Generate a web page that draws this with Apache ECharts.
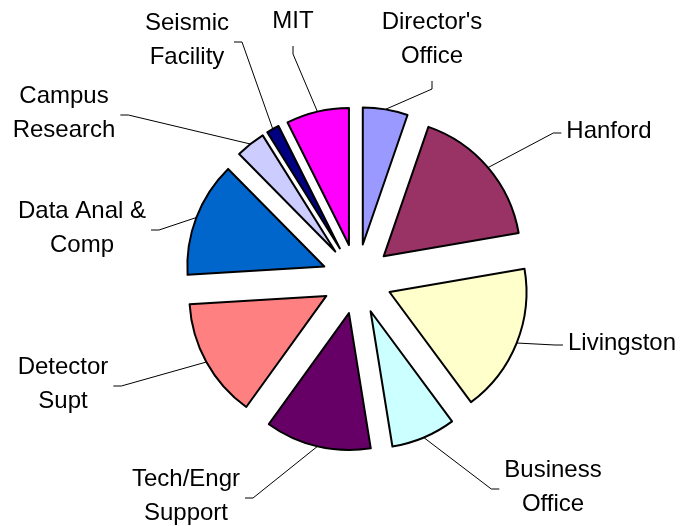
<!DOCTYPE html>
<html lang="en">
<head>
  <meta charset="UTF-8">
  <title>echarts</title>
  <style>
    * {
      margin: 0;
      padding: 0;
    }
    #main {
      width: 681px;
      height: 526px;
      background: #fff;
    }
  </style>
</head>
<body>
  <div id="main"></div>
  <script src="https://cdn.jsdelivr.net/npm/echarts@6/dist/echarts.min.js"></script>
  <script>
    // data, clockwise from 12 o'clock
    var categories = ["Director's\nOffice", 'Hanford', 'Livingston', 'Business\nOffice', 'Tech/Engr\nSupport',
      'Detector\nSupt', 'Data Anal &\nComp', 'Campus\nResearch', 'Seismic\nFacility', 'MIT'];
    var shares = [5.3, 17.0, 17.6, 7.6, 12.5, 14.1, 13.6, 3.5, 1.5, 7.4];

    // styles / layout
    var colors = ['#9999FF', '#993366', '#FFFFCC', '#CCFFFF', '#660066',
      '#FF8080', '#0066CC', '#CCCCFF', '#000080', '#FF00FF'];
    // label block centre + side where the leader line attaches
    var labelSpots = [
      [432, 39, 'top'], [609, 131, 'left'], [622, 343, 'left'], [553, 487, 'left'], [186, 496, 'right'],
      [63, 384, 'right'], [82, 228, 'right'], [64, 113, 'right'], [187, 40, 'right'], [293, 21, 'top']
    ];
    var pieCenter = [357, 279];
    var pieRadius = 137;
    var explode = 35;

    var myCharts = echarts.init(document.getElementById('main'));

    var total = shares.reduce(function (a, b) { return a + b; }, 0);

    function makeLayout(i) {
      return function (params) {
        var s = labelSpots[i];
        var w = params.labelRect.width, h = params.labelRect.height;
        var p0 = params.labelLinePoints ? params.labelLinePoints[0] : null;
        var end, bend;
        if (s[2] === 'top') {
          end = [s[0], s[1] + h / 2 + 8];
          bend = [end[0], end[1] + 8];
        } else if (s[2] === 'left') {
          end = [s[0] - w / 2 - 5, s[1] + 2];
          bend = [end[0] - 8, end[1]];
        } else {
          end = [s[0] + w / 2 + 5, s[1] + 2];
          bend = [end[0] + 8, end[1]];
        }
        var out = { x: s[0], y: s[1], align: 'center', verticalAlign: 'middle' };
        if (p0) out.labelLinePoints = [p0, bend, end];
        return out;
      };
    }

    // one pie per slice so every slice can be pulled out
    var series = [];
    var cum = 0;
    categories.forEach(function (name, i) {
      var mid = (cum + shares[i] / 2) / total * 2 * Math.PI;
      cum += shares[i];
      var data = categories.map(function (n, j) {
        if (j === i) {
          return {
            name: n, value: shares[j],
            itemStyle: { color: colors[j], borderColor: '#000', borderWidth: 2 }
          };
        }
        return {
          name: n, value: shares[j],
          itemStyle: { color: 'rgba(0,0,0,0)', borderWidth: 0 },
          label: { show: false },
          labelLine: { show: false }
        };
      });
      series.push({
        type: 'pie',
        silent: true,
        animation: false,
        startAngle: 90,
        clockwise: true,
        radius: [0, pieRadius],
        center: [pieCenter[0] + explode * Math.sin(mid), pieCenter[1] - explode * Math.cos(mid)],
        avoidLabelOverlap: false,
        emphasis: { disabled: true },
        label: {
          show: true,
          position: 'outside',
          color: '#000',
          fontFamily: 'Liberation Sans, Arial, sans-serif',
          fontSize: 24,
          lineHeight: 34
        },
        labelLine: {
          show: true,
          length: 20,
          length2: 10,
          lineStyle: { color: '#000', width: 1 }
        },
        labelLayout: makeLayout(i),
        data: data
      });
    });

    var option = {
      backgroundColor: '#fff',
      animation: false,
      series: series
    };
    myCharts.setOption(option);
  </script>
</body>
</html>
